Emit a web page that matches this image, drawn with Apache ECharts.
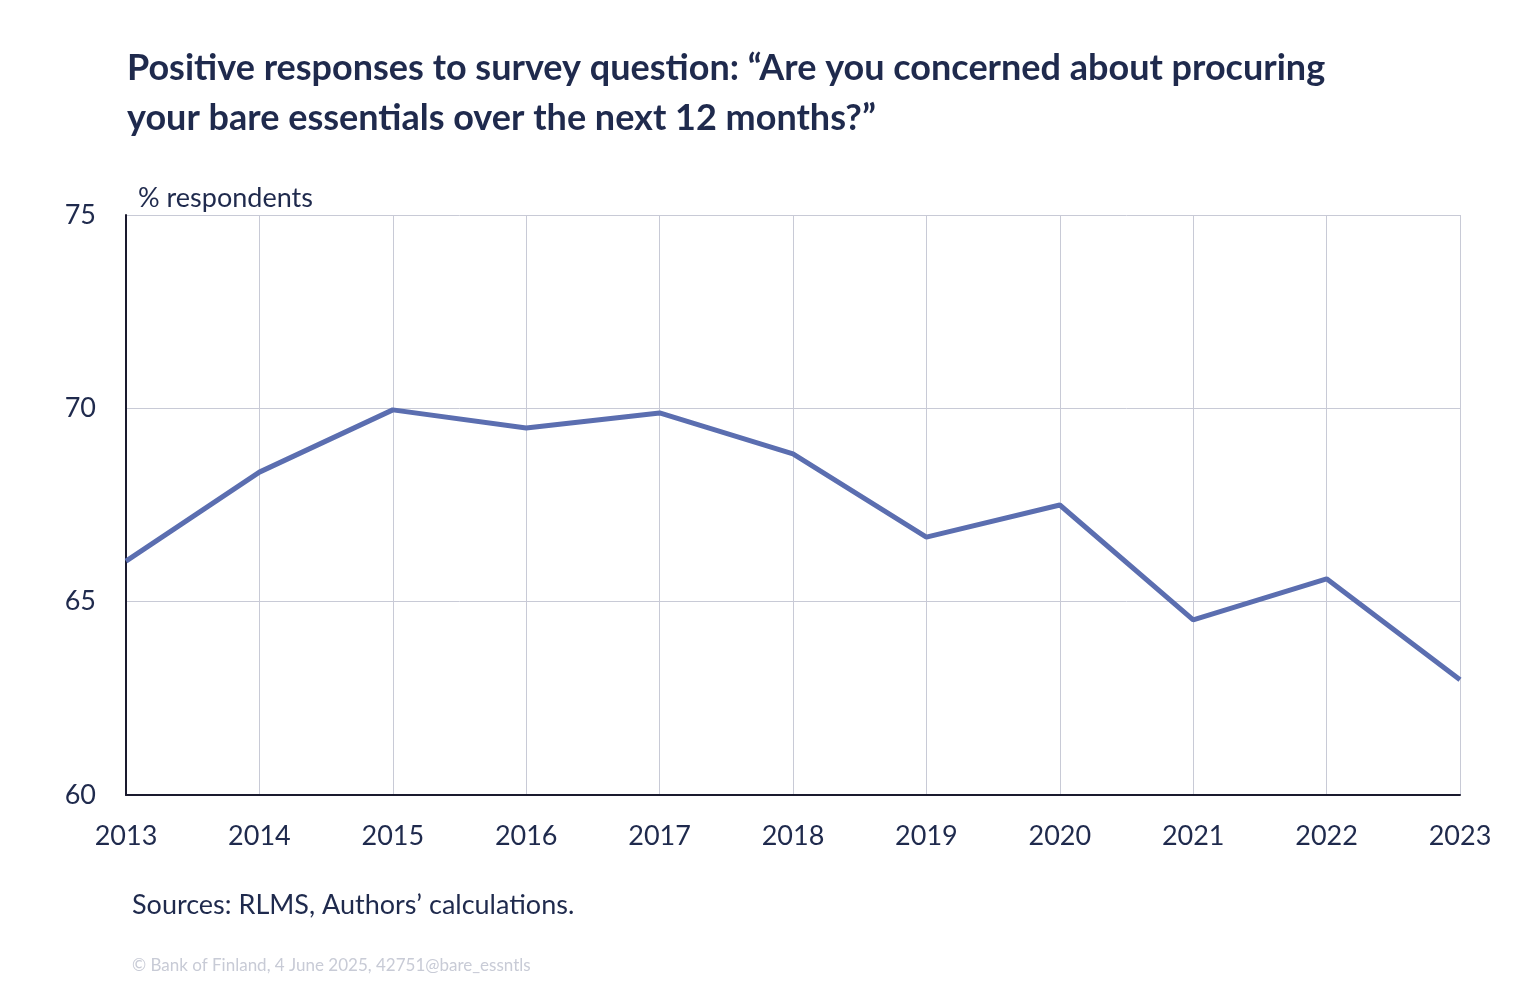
<!DOCTYPE html>
<html>
<head>
<meta charset="utf-8">
<script src="https://cdn.jsdelivr.net/npm/echarts@6/dist/echarts.min.js"></script>
<style>
html,body{margin:0;padding:0;background:#fff;}
#main{width:1525px;height:996px;}
</style>
</head>
<body>
<div id="main"></div>
<script>
// data
var years = ["2013","2014","2015","2016","2017","2018","2019","2020","2021","2022","2023"];
var positive = [66.05, 68.35, 69.96, 69.49, 69.88, 68.82, 66.67, 67.5, 64.53, 65.59, 62.98];
var yTicks = [60, 65, 70, 75];

var FONT = "Lato, 'Open Sans', sans-serif";
var NAVY = "#1f2a4d";

var myChart = echarts.init(document.getElementById("main"));
var option = {
    backgroundColor: "#fff",
    title: [
        {
            text: "Positive responses to survey question: \u201cAre you concerned about procuring\nyour bare essentials over the next 12 months?\u201d",
            left: 122, top: 38,
            textStyle: {fontFamily: FONT, fontSize: 36, fontWeight: "bold", color: NAVY, lineHeight: 50}
        },
        {
            text: "% respondents",
            left: 133, top: 180,
            textStyle: {fontFamily: FONT, fontSize: 27, fontWeight: "normal", color: NAVY}
        },
        {
            text: "Sources: RLMS, Authors\u2019 calculations.",
            left: 127, top: 887,
            textStyle: {fontFamily: FONT, fontSize: 27, fontWeight: "normal", color: NAVY}
        },
        {
            text: "\u00a9 Bank of Finland, 4 June 2025, 42751@bare_essntls",
            left: 127, top: 952,
            textStyle: {fontFamily: FONT, fontSize: 17, fontWeight: "normal", color: "#c8cbd6"}
        }
    ],
    grid: {left: 126, right: 65, top: 215, bottom: 201},
    xAxis: {
        type: "category",
        data: years,
        boundaryGap: false,
        axisLine: {lineStyle: {color: "#1a1a2e", width: 2}},
        axisTick: {show: false},
        axisLabel: {fontFamily: FONT, fontSize: 27, color: NAVY, margin: 28},
        splitLine: {show: true, lineStyle: {color: "#c8cad6", width: 1}}
    },
    yAxis: {
        type: "value",
        min: yTicks[0], max: yTicks[yTicks.length - 1], interval: 5,
        axisLine: {show: true, lineStyle: {color: "#1a1a2e", width: 2}},
        axisTick: {show: false},
        axisLabel: {fontFamily: FONT, fontSize: 27, color: NAVY, margin: 30},
        splitLine: {lineStyle: {color: "#c8cad6", width: 1}}
    },
    series: [
        {
            type: "line",
            data: positive,
            symbol: "none",
            lineStyle: {color: "#5b6eb0", width: 5},
            animation: false
        }
    ]
};
myChart.setOption(option);
</script>
</body>
</html>
